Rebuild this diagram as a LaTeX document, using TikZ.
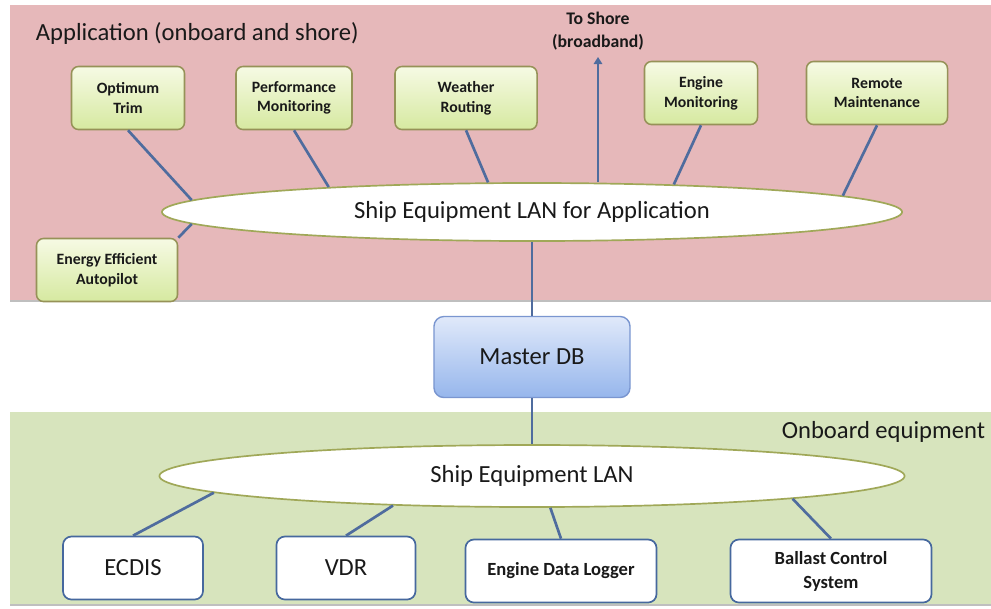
\documentclass[tikz,border=0pt]{standalone}
\usepackage{fontspec}
\setmainfont{Carlito}
\usetikzlibrary{shapes.geometric,arrows.meta}

\definecolor{apppink}{RGB}{230,184,186}
\definecolor{boardgreen}{RGB}{215,228,189}
\definecolor{wire}{RGB}{79,108,158}
\definecolor{appedge}{RGB}{150,146,88}
\definecolor{apptop}{RGB}{246,250,228}
\definecolor{appbot}{RGB}{214,233,160}
\definecolor{lanedge}{RGB}{160,168,88}
\definecolor{dbtop}{RGB}{224,233,250}
\definecolor{dbbot}{RGB}{150,182,236}
\definecolor{dbedge}{RGB}{122,150,208}
\definecolor{eqedge}{RGB}{70,104,158}
\definecolor{ink}{RGB}{25,25,25}

\tikzset{
  appbox/.style={rectangle, rounded corners=5pt, draw=appedge, line width=1.1pt,
    top color=apptop, bottom color=appbot, minimum height=1.575cm,
    align=center, text=ink, font=\bfseries\fontsize{11.2}{14}\selectfont},
  eqbox/.style={rectangle, rounded corners=6pt, draw=eqedge, line width=1.2pt,
    fill=white, minimum height=1.575cm, align=center, text=ink},
  lan/.style={ellipse, draw=lanedge, line width=1.2pt, fill=white, inner sep=0pt,
    text=ink, font=\fontsize{17.5}{20}\selectfont},
  wire/.style={draw=wire, line width=1.9pt},
  big/.style={text=ink, font=\fontsize{17.5}{20}\selectfont}
}

\begin{document}
\begin{tikzpicture}[x=0.025cm, y=-0.025cm]
  \useasboundingbox (0,0) rectangle (991,608);

  % the two layers
  \fill[apppink] (10,5) rectangle (991,301);
  \draw[black!25, line width=1pt] (10,301) -- (991,301);
  \fill[boardgreen] (10,412) rectangle (991,605);
  \draw[black!25, line width=1pt] (10,605) -- (991,605);

  \node[big, anchor=west] (apptitle) at (31,33) {Application (onboard and shore)};
  \node[big, anchor=east] (boardtitle) at (990,432) {Onboard equipment};

  % applications
  \node[appbox, minimum width=2.825cm] (trim) at (128,98) {Optimum\\Trim};
  \node[appbox, minimum width=2.9cm] (perf) at (294,98) {Performance\\Monitoring};
  \node[appbox, minimum width=3.55cm] (weather) at (466,98) {Weather\\Routing};
  \node[appbox, minimum width=2.825cm] (engmon) at (701,93) {Engine\\Monitoring};
  \node[appbox, minimum width=3.525cm] (remote) at (877,93) {Remote\\Maintenance};
  \node[appbox, minimum width=3.525cm] (pilot) at (107,270) {Energy Efficient\\Autopilot};
  \node[text=ink, align=center, font=\bfseries\fontsize{12.6}{16}\selectfont] (shorelbl) at (598,31) {To Shore\\(broadband)};
  \coordinate (shore) at (598,57);

  \node[lan, minimum width=18.5cm, minimum height=1.45cm] (applan) at (532,212) {Ship Equipment LAN for Application};

  \node[rectangle, rounded corners=7pt, draw=dbedge, line width=1pt, top color=dbtop, bottom color=dbbot,
    minimum width=4.9cm, minimum height=2.025cm, big] (db) at (532,357) {Master DB};

  \node[lan, minimum width=18.625cm, minimum height=1.55cm] (shiplan) at (532,476) {Ship Equipment LAN};

  % onboard equipment
  \node[eqbox, minimum width=3.5cm, font=\fontsize{17.5}{20}\selectfont] (ecdis) at (133,568) {ECDIS};
  \node[eqbox, minimum width=3.475cm, font=\fontsize{17.5}{20}\selectfont] (vdr) at (346,568) {VDR};
  \node[eqbox, minimum width=4.775cm, font=\bfseries\fontsize{13.2}{17}\selectfont] (logger) at (561,571) {Engine Data Logger};
  \node[eqbox, minimum width=5.025cm, font=\bfseries\fontsize{13.2}{17}\selectfont] (ballast) at (831,571) {Ballast Control\\System};

  % links
  \draw[wire] (trim.south) -- (applan.178);
  \draw[wire] (perf.south) -- (applan.173);
  \draw[wire] (weather.south) -- (applan.146);
  \draw[wire] (engmon.south) -- (applan.11);
  \draw[wire] (remote.south) -- (applan.3);
  \draw[wire] (pilot.north east) -- (applan.182);
  \draw[wire, -{Triangle[width=6pt, length=5pt]}] (shore |- applan.north) -- (shore);
  \draw[wire] (applan.south) -- (db.north);
  \draw[wire] (db.south) -- (shiplan.north);
  \draw[wire] (ecdis.north) -- (shiplan.183);
  \draw[wire] (vdr.north) -- (shiplan.192);
  \draw[wire] (logger.north) -- (shiplan.300);
  \draw[wire] (ballast.north) -- (shiplan.355);
\end{tikzpicture}
\end{document}
